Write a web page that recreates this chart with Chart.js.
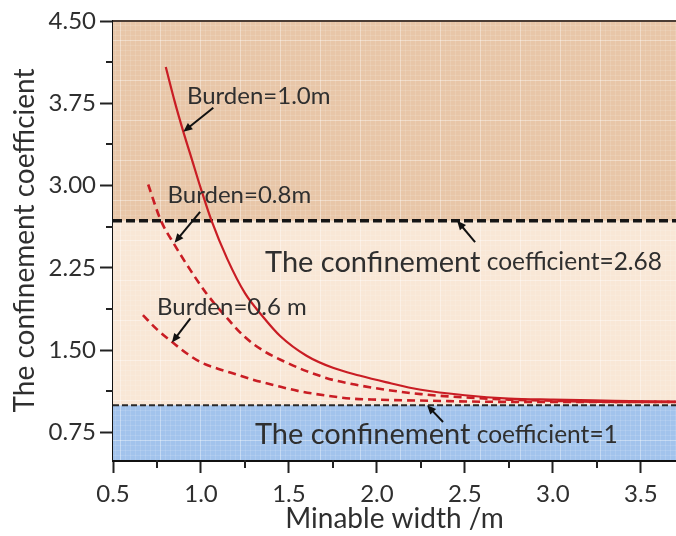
<!DOCTYPE html>
<html>
<head>
<meta charset="utf-8">
<script src="https://cdn.jsdelivr.net/npm/chart.js@4.4.1/dist/chart.umd.min.js"></script>
<style>
  html, body { margin: 0; padding: 0; background: #ffffff; }
  #wrap { width: 676px; height: 536px; }
</style>
</head>
<body>
<div id="wrap"><canvas id="chart" width="676" height="536"></canvas></div>
<script>
// Confinement coefficient against minable width for three burden values
const widths10 = [0.80, 0.85, 0.90, 0.95, 1.00, 1.06, 1.15, 1.25, 1.35, 1.45, 1.60, 1.75, 1.90, 2.05, 2.25, 2.50, 2.75, 3.00, 3.35, 3.70];
const coef10   = [4.08, 3.77, 3.49, 3.23, 2.97, 2.68, 2.33, 2.02, 1.81, 1.63, 1.45, 1.34, 1.27, 1.21, 1.14, 1.09, 1.06, 1.05, 1.04, 1.03];

const widths08 = [0.70, 0.77, 0.85, 0.94, 1.03, 1.15, 1.25, 1.35, 1.47, 1.60, 1.75, 1.90, 2.05, 2.25, 2.50, 2.75, 3.00, 3.35, 3.70];
const coef08   = [3.01, 2.69, 2.46, 2.23, 2.02, 1.79, 1.62, 1.50, 1.40, 1.31, 1.23, 1.18, 1.14, 1.10, 1.07, 1.05, 1.04, 1.03, 1.03];

const widths06 = [0.67, 0.75, 0.84, 0.92, 1.00, 1.10, 1.20, 1.30, 1.42, 1.55, 1.70, 1.85, 2.00, 2.30, 2.70, 3.20, 3.70];
const coef06   = [1.82, 1.69, 1.57, 1.47, 1.39, 1.33, 1.28, 1.23, 1.18, 1.13, 1.09, 1.06, 1.05, 1.04, 1.03, 1.03, 1.03];

// Threshold levels of the confinement coefficient
const upperLimit = 2.68;
const lowerLimit = 1;

// Axis ranges and tick values
const xRange = [0.5, 3.7];
const yRange = [0.5, 4.5];
const xTickValues = [0.5, 0.75, 1.0, 1.25, 1.5, 1.75, 2.0, 2.25, 2.5, 2.75, 3.0, 3.25, 3.5];
const xMajorStep = 0.5;
const yTickValues = [0.75, 1.125, 1.5, 1.875, 2.25, 2.625, 3.0, 3.375, 3.75, 4.125, 4.5];
const yMajorStep = 0.75;

const isMajor = (v, step, base) => Math.abs(((v - base) / step) - Math.round((v - base) / step)) < 1e-6;

const toPoints = (xs, ys) => xs.map((x, i) => ({ x: x, y: ys[i] }));

// Soft graph-paper texture for the shaded bands
function texture(base) {
  const t = document.createElement('canvas');
  t.width = 40; t.height = 40;
  const g = t.getContext('2d');
  g.fillStyle = base;
  g.fillRect(0, 0, 40, 40);
  g.fillStyle = 'rgba(255,255,255,0.12)';
  for (let i = 0; i < 40; i += 5) { g.fillRect(i, 0, 1, 40); g.fillRect(0, i, 40, 1); }
  g.fillStyle = 'rgba(255,255,255,0.30)';
  g.fillRect(0, 0, 1, 40); g.fillRect(0, 0, 40, 1);
  return g.createPattern(t, 'repeat');
}
const highBand = texture('#E8C6A8');
const midBand = texture('#F9E7D6');
const lowBand = texture('#A2C3EC');

const red = '#C91D24';
const ink = '#2f2f2f';
const FONT = 'Lato, "Open Sans", sans-serif';

// Callout labels with their pointer arrows (data coordinates)
const notes = [
  { parts: [['Burden=1.0m', 24]], x: 0.92, y: 3.81, from: [1.07, 3.71], to: [0.90, 3.49] },
  { parts: [['Burden=0.8m', 24]], x: 0.81, y: 2.91, from: [0.995, 2.76], to: [0.85, 2.48] },
  { parts: [['Burden=0.6 m', 24]], x: 0.75, y: 1.89, from: [0.94, 1.79], to: [0.835, 1.57] },
  { parts: [['The confinement', 29], [' coefficient=2.68', 24.5]], x: 1.364, y: 2.30, from: [2.558, 2.486], to: [2.456, upperLimit] },
  { parts: [['The confinement', 29], [' coefficient=1', 24.5]], x: 1.307, y: 0.728, from: [2.376, 0.846], to: [2.285, lowerLimit] }
];

const backdrop = {
  id: 'backdrop',
  beforeDatasetsDraw(chart) {
    const { ctx, chartArea: a } = chart;
    ctx.save();
    ctx.fillStyle = midBand;
    ctx.fillRect(a.left, a.top, a.right - a.left, a.bottom - a.top);
    ctx.restore();
  }
};

function arrow(ctx, x1, y1, x2, y2) {
  const ang = Math.atan2(y2 - y1, x2 - x1);
  const hl = 9, hw = 4;
  ctx.beginPath();
  ctx.moveTo(x1, y1);
  ctx.lineTo(x2 - Math.cos(ang) * hl * 0.8, y2 - Math.sin(ang) * hl * 0.8);
  ctx.stroke();
  ctx.beginPath();
  ctx.moveTo(x2, y2);
  ctx.lineTo(x2 - Math.cos(ang) * hl + Math.sin(ang) * hw, y2 - Math.sin(ang) * hl - Math.cos(ang) * hw);
  ctx.lineTo(x2 - Math.cos(ang) * hl - Math.sin(ang) * hw, y2 - Math.sin(ang) * hl + Math.cos(ang) * hw);
  ctx.closePath();
  ctx.fill();
}

const decorations = {
  id: 'decorations',
  afterDatasetsDraw(chart) {
    const { ctx, chartArea: a, scales: { x, y } } = chart;
    ctx.save();
    // top frame line
    ctx.strokeStyle = '#4a3c34';
    ctx.lineWidth = 2;
    ctx.beginPath();
    ctx.moveTo(a.left, a.top);
    ctx.lineTo(a.right, a.top);
    ctx.stroke();
    // callouts
    ctx.textBaseline = 'middle';
    ctx.textAlign = 'left';
    notes.forEach(n => {
      let px = x.getPixelForValue(n.x);
      const py = y.getPixelForValue(n.y);
      n.parts.forEach(([txt, size]) => {
        ctx.font = size + 'px ' + FONT;
        ctx.fillStyle = ink;
        ctx.fillText(txt, px, py);
        px += ctx.measureText(txt).width;
      });
      ctx.strokeStyle = '#111111';
      ctx.fillStyle = '#111111';
      ctx.lineWidth = 2;
      arrow(ctx, x.getPixelForValue(n.from[0]), y.getPixelForValue(n.from[1]),
                 x.getPixelForValue(n.to[0]), y.getPixelForValue(n.to[1]));
    });
    ctx.restore();
  },
  afterDraw(chart) {
    // shorter minor tick marks
    const { ctx, chartArea: a, scales: { x, y } } = chart;
    ctx.save();
    ctx.strokeStyle = '#222222';
    ctx.lineWidth = 2;
    ctx.beginPath();
    yTickValues.filter(v => !isMajor(v, yMajorStep, 0.75)).forEach(v => {
      const py = Math.round(y.getPixelForValue(v));
      ctx.moveTo(a.left - 7, py);
      ctx.lineTo(a.left, py);
    });
    xTickValues.filter(v => !isMajor(v, xMajorStep, 0.5)).forEach(v => {
      const px = Math.round(x.getPixelForValue(v));
      ctx.moveTo(px, a.bottom);
      ctx.lineTo(px, a.bottom + 8);
    });
    ctx.stroke();
    ctx.restore();
  }
};

const lineAcross = v => [{ x: xRange[0], y: v }, { x: xRange[1], y: v }];

new Chart(document.getElementById('chart'), {
  type: 'line',
  data: {
    datasets: [
      { label: 'Burden=1.0m', data: toPoints(widths10, coef10), borderColor: red, borderWidth: 2.2,
        pointRadius: 0, cubicInterpolationMode: 'monotone', fill: false },
      { label: 'Burden=0.8m', data: toPoints(widths08, coef08), borderColor: red, borderWidth: 2.6,
        borderDash: [8, 5], pointRadius: 0, cubicInterpolationMode: 'monotone', fill: false },
      { label: 'Burden=0.6 m', data: toPoints(widths06, coef06), borderColor: red, borderWidth: 2.6,
        borderDash: [8, 5], pointRadius: 0, cubicInterpolationMode: 'monotone', fill: false },
      { label: 'coefficient=2.68', data: lineAcross(upperLimit), borderColor: '#151515', borderWidth: 3.5,
        borderDash: [9, 4], pointRadius: 0, fill: 'end', backgroundColor: highBand },
      { label: 'coefficient=1', data: lineAcross(lowerLimit), borderColor: '#2a2a2a', borderWidth: 2,
        borderDash: [6, 3], pointRadius: 0, fill: 'start', backgroundColor: lowBand }
    ]
  },
  options: {
    responsive: false,
    animation: false,
    devicePixelRatio: 1,
    layout: { padding: { top: 21, right: 0, bottom: 0, left: 0 } },
    plugins: { legend: { display: false }, tooltip: { enabled: false } },
    scales: {
      x: {
        type: 'linear',
        min: xRange[0], max: xRange[1],
        afterBuildTicks: s => { s.ticks = xTickValues.map(v => ({ value: v })); },
        afterFit: s => { s.height = 76; },
        border: { display: true, color: '#111111', width: 3 },
        grid: {
          drawOnChartArea: false, drawTicks: true, tickLength: 13, tickWidth: 2,
          tickColor: c => isMajor(c.tick.value, xMajorStep, 0.5) ? '#222222' : 'rgba(0,0,0,0)'
        },
        ticks: {
          autoSkip: false, maxRotation: 0, padding: 7, color: ink,
          font: { family: FONT, size: 24 },
          callback: v => isMajor(v, xMajorStep, 0.5) ? v.toFixed(1) : ''
        },
        title: {
          display: true, text: 'Minable width /m', color: ink,
          font: { family: FONT, size: 28 }, padding: { top: 0, bottom: 0 }
        }
      },
      y: {
        type: 'linear',
        min: yRange[0], max: yRange[1],
        afterBuildTicks: s => { s.ticks = yTickValues.map(v => ({ value: v })); },
        afterFit: s => { s.width = 113; },
        border: { display: true, color: '#111111', width: 2.5 },
        grid: {
          drawOnChartArea: false, drawTicks: true, tickLength: 13, tickWidth: 2,
          tickColor: c => isMajor(c.tick.value, yMajorStep, 0.75) ? '#222222' : 'rgba(0,0,0,0)'
        },
        ticks: {
          autoSkip: false, padding: 4, color: ink,
          font: { family: FONT, size: 24 },
          callback: v => isMajor(v, yMajorStep, 0.75) ? v.toFixed(2) : ''
        },
        title: {
          display: true, text: 'The confinement coefficient', color: ink,
          font: { family: FONT, size: 28 }, padding: { top: 8, bottom: 0 }
        }
      }
    }
  },
  plugins: [backdrop, decorations]
});
</script>
</body>
</html>
